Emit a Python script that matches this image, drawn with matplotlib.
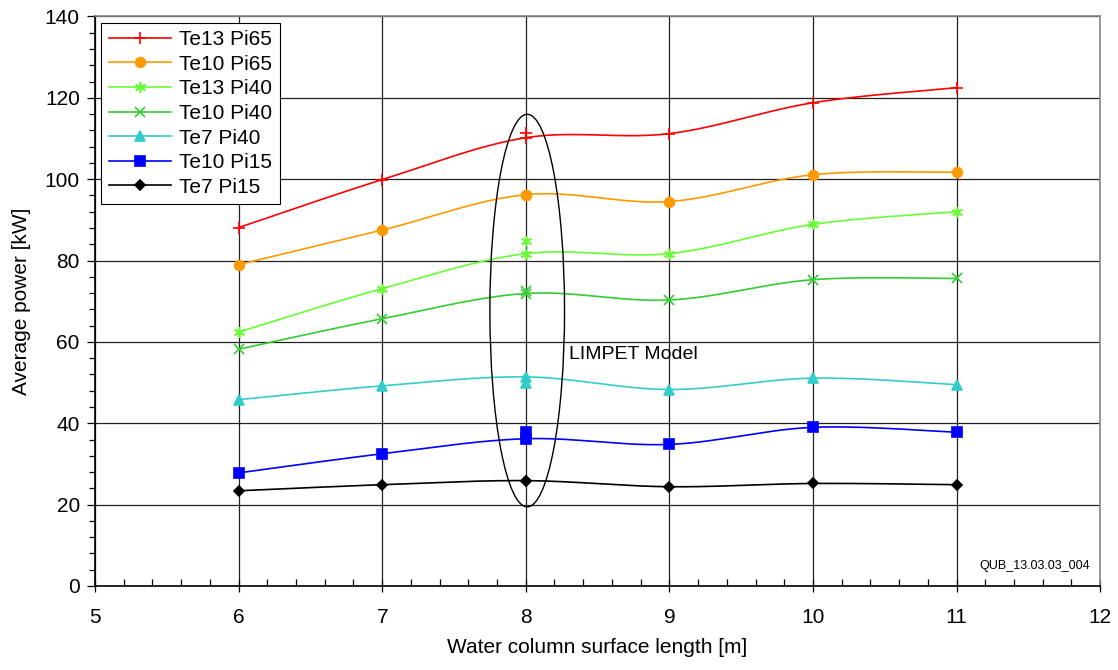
import numpy as np
import matplotlib
matplotlib.use('Agg')
import matplotlib.pyplot as plt
from matplotlib.patches import Ellipse
from matplotlib.ticker import MultipleLocator

plt.rcParams['font.family'] = ['Liberation Sans', 'DejaVu Sans']

# surface lengths [m]
lengths = [6, 7, 8, 9, 10, 11]

# average power [kW] for each case
te13_pi65 = [88.1, 99.9, 110.2, 111.2, 118.8, 122.5]
te10_pi65 = [79.0, 87.5, 96.2, 94.5, 101.1, 101.7]
te13_pi40 = [62.4, 73.1, 81.7, 81.7, 88.9, 92.0]
te10_pi40 = [58.2, 65.7, 71.9, 70.3, 75.3, 75.6]
te7_pi40 = [45.8, 49.2, 51.4, 48.3, 51.1, 49.5]
te10_pi15 = [27.8, 32.5, 36.2, 34.8, 39.0, 37.8]
te7_pi15 = [23.4, 24.9, 25.9, 24.4, 25.2, 24.9]

# second LIMPET model point at 8 m
model_x = 8
model_vals = [111.4, 96.2, 84.7, 72.5, 50.0, 37.9, 25.9]

labels = ['Te13 Pi65', 'Te10 Pi65', 'Te13 Pi40', 'Te10 Pi40',
          'Te7 Pi40', 'Te10 Pi15', 'Te7 Pi15']
series = [te13_pi65, te10_pi65, te13_pi40, te10_pi40, te7_pi40, te10_pi15, te7_pi15]
colors = ['#FF0000', '#FF9900', '#66FF33', '#33CC33', '#33CCCC', '#0000FF', '#000000']
markers = ['+', 'o', (6, 2, 0), 'x', '^', 's', 'D']
msizes = [8, 7, 8, 7, 7, 6.5, 5.5]


def smooth(x, y, n=30):
    # catmull-rom curve through the points (like excel's smoothed line)
    x = np.asarray(x, float)
    y = np.asarray(y, float)
    px = np.concatenate([[x[0]], x, [x[-1]]])
    py = np.concatenate([[y[0]], y, [y[-1]]])
    xs, ys = [], []
    t = np.linspace(0, 1, n)
    for i in range(1, len(px) - 2):
        for p, out in ((px, xs), (py, ys)):
            p0, p1, p2, p3 = p[i - 1], p[i], p[i + 1], p[i + 2]
            out.extend(0.5 * (2 * p1 + (-p0 + p2) * t
                              + (2 * p0 - 5 * p1 + 4 * p2 - p3) * t ** 2
                              + (-p0 + 3 * p1 - 3 * p2 + p3) * t ** 3))
    return np.array(xs), np.array(ys)


fig = plt.figure(figsize=(11.18, 6.70), dpi=100)
ax = fig.add_axes([0.085, 0.1254, 0.899, 0.85])

for vals, lab, c, m, ms, mv in zip(series, labels, colors, markers, msizes, model_vals):
    sx, sy = smooth(lengths, vals)
    ax.plot(sx, sy, color=c, lw=1.2, zorder=3)
    ax.plot(lengths, vals, ls='none', marker=m, color=c, ms=ms, mew=1.2, zorder=4)
    ax.plot([model_x], [mv], ls='none', marker=m, color=c, ms=ms, mew=1.2, zorder=4)
    ax.plot([], [], color=c, marker=m, ms=ms, mew=1.2, lw=1.2, label=lab)

ax.add_patch(Ellipse((8.01, 67.7), 0.52, 96.5, fill=False, ec='black', lw=1.0, zorder=5))
ax.text(8.3, 57, 'LIMPET Model', fontsize=14, va='center', ha='left')
ax.text(0.99, 0.025, 'QUB_13.03.03_004', transform=ax.transAxes, fontsize=9,
        ha='right', va='bottom')

ax.set_xlim(5, 12)
ax.set_ylim(0, 140)
ax.xaxis.set_major_locator(MultipleLocator(1))
ax.xaxis.set_minor_locator(MultipleLocator(0.2))
ax.yaxis.set_major_locator(MultipleLocator(20))
ax.yaxis.set_minor_locator(MultipleLocator(4))
ax.grid(True, which='major', color='#222222', lw=0.9)
ax.tick_params(which='both', labelsize=15, width=0.9)
ax.tick_params(axis='y', which='major', direction='out', length=6, pad=5)
ax.tick_params(axis='y', which='minor', direction='out', length=4)
ax.tick_params(axis='x', which='major', direction='inout', length=8, pad=12)
ax.tick_params(axis='x', which='minor', direction='in', length=5)
for s in ax.spines.values():
    s.set_color('#888888')
    s.set_linewidth(1.2)
ax.spines['left'].set_color('black')
ax.spines['bottom'].set_color('black')

ax.set_xlabel('Water column surface length [m]', fontsize=15, labelpad=8)
ax.set_ylabel('Average power [kW]', fontsize=15, labelpad=10)

leg = ax.legend(loc='upper left', fontsize=15, frameon=True, fancybox=False,
                borderaxespad=0.3, handlelength=3.0, labelspacing=0.27,
                borderpad=0.35, handletextpad=0.4)
leg.get_frame().set_edgecolor('black')
leg.get_frame().set_linewidth(0.8)
leg.get_frame().set_alpha(1)

fig.savefig('out.png', dpi=100)
